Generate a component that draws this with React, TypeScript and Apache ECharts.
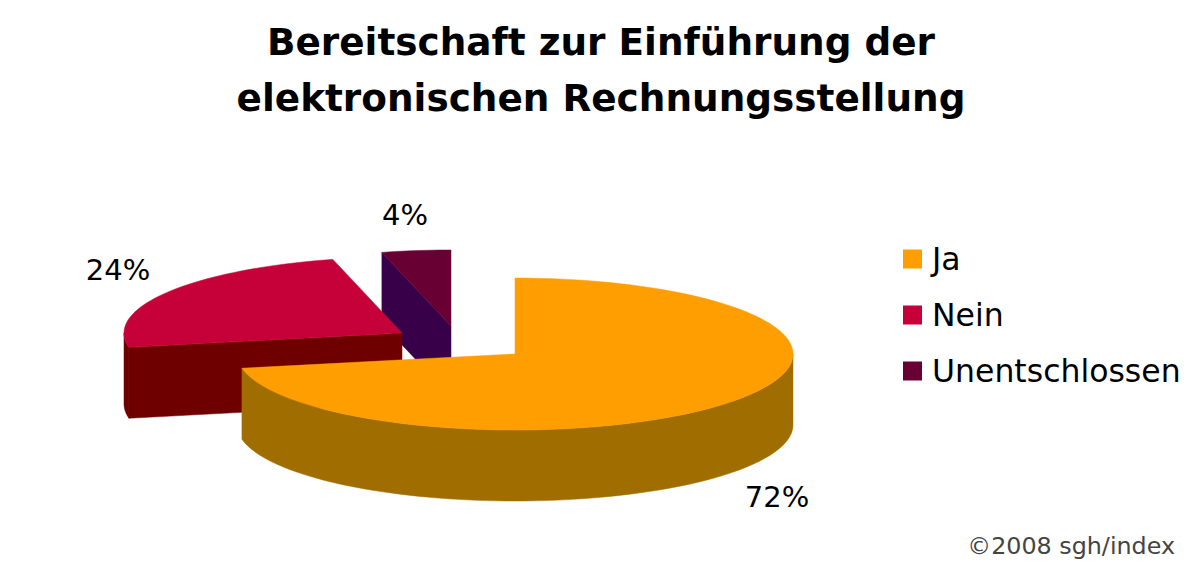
import React, { useEffect, useRef } from "react";
import * as echarts from "echarts";

const categories = ["Ja", "Nein", "Unentschlossen"];
const shares = [72, 24, 4];
const titleLines = ["Bereitschaft zur Einführung der", "elektronischen Rechnungsstellung"];
const credit = "©2008 sgh/index";

const topColors = ["#FF9E00", "#C60038", "#690034"];
const wallColors = ["#A06E00", "#6E0000", "#39004A"];
const fontFamily = "'DejaVu Sans', Verdana, sans-serif";

// 3D-pie projection, px on the 1200x578 page
const RX = 278;
const RY = 76;
const DEPTH = 71;
const centers = [[515, 354], [402, 333], [451, 326]];
const labelAnchors = [[777, 497], [118, 270], [405, 215]];
const STEP = 2;

const total = shares.reduce((a, b) => a + b, 0);
const startAngles = shares.map((_, i) => (shares.slice(0, i).reduce((a, b) => a + b, 0) / total) * 360);

function rim(cx: number, cy: number, deg: number): number[] {
  const r = (deg * Math.PI) / 180;
  return [cx + RX * Math.sin(r), cy - RY * Math.cos(r)];
}

function arc(cx: number, cy: number, a: number, b: number): number[][] {
  const pts: number[][] = [];
  for (let d = a; d < b; d += STEP) pts.push(rim(cx, cy, d));
  pts.push(rim(cx, cy, b));
  return pts;
}

function down(pts: number[][]): number[][] {
  return pts.map(([x, y]) => [x, y + DEPTH]);
}

function sliceRenderer(i: number) {
  return (_params: any, api: any) => {
    const value = api.value(0) as number;
    const a0 = startAngles[i];
    const a1 = a0 + (value / total) * 360;
    const [cx, cy] = centers[i];
    const children: any[] = [];
    const wall = wallColors[i];
    const face = (points: number[][]) => ({
      type: "polygon",
      shape: { points },
      style: { fill: wall, stroke: wall, lineWidth: 0.5 },
      silent: true,
    });

    // cut faces turned towards the viewer
    if (a0 > 180 && a0 < 360) {
      const edge = [[cx, cy], rim(cx, cy, a0)];
      children.push(face([...edge, ...down(edge).reverse()]));
    }
    if (a1 > 0 && a1 < 180) {
      const edge = [[cx, cy], rim(cx, cy, a1)];
      children.push(face([...edge, ...down(edge).reverse()]));
    }
    // outer wall: only the front half of the rim shows
    const w0 = Math.max(a0, 90);
    const w1 = Math.min(a1, 270);
    if (w1 > w0) {
      const outer = arc(cx, cy, w0, w1);
      children.push(face([...outer, ...down(outer).reverse()]));
    }
    // top face
    children.push({
      type: "polygon",
      shape: { points: [[cx, cy], ...arc(cx, cy, a0, a1)] },
      style: { fill: topColors[i], stroke: topColors[i], lineWidth: 0.5 },
      silent: true,
    });
    // percentage label
    children.push({
      type: "text",
      x: labelAnchors[i][0],
      y: labelAnchors[i][1],
      silent: true,
      style: {
        text: `${value}%`,
        fontSize: 29,
        fontFamily,
        fill: "#000",
        align: "center",
        verticalAlign: "middle",
      },
    });
    return { type: "group", children };
  };
}

export default function App() {
  const ref = useRef<HTMLDivElement>(null);
  useEffect(() => {
    if (!ref.current) return;
    const chart = echarts.init(ref.current, undefined, { renderer: "svg" });
    chart.setOption({
      animation: false,
      backgroundColor: "#ffffff",
      title: {
        text: titleLines.join("\n"),
        left: 596,
        top: 9,
        textAlign: "center",
        textStyle: {
          fontFamily,
          fontWeight: "bold",
          fontSize: 37.4,
          lineHeight: 56,
          color: "#000",
        },
      },
      legend: {
        data: categories,
        orient: "vertical",
        left: 898,
        top: 238,
        icon: "rect",
        itemWidth: 19,
        itemHeight: 19,
        itemGap: 24,
        selectedMode: false,
        textStyle: { fontFamily, fontSize: 31.5, color: "#000", padding: [0, 0, 0, 5] },
      },
      graphic: [
        {
          type: "text",
          x: 1175,
          y: 546,
          style: {
            text: credit,
            fontFamily,
            fontSize: 23.8,
            fill: "#444",
            align: "right",
            verticalAlign: "middle",
          },
        },
      ],
      series: categories.map((name, i) => ({
        type: "custom",
        name,
        coordinateSystem: "none",
        z: i === 0 ? 4 : 4 - i,
        itemStyle: { color: topColors[i] },
        data: [[shares[i]]],
        renderItem: sliceRenderer(i),
      })),
    });
    return () => chart.dispose();
  }, []);
  return (
    <div
      ref={ref}
      style={{ position: "absolute", left: 0, top: 0, width: 1200, height: 578 }}
    />
  );
}
